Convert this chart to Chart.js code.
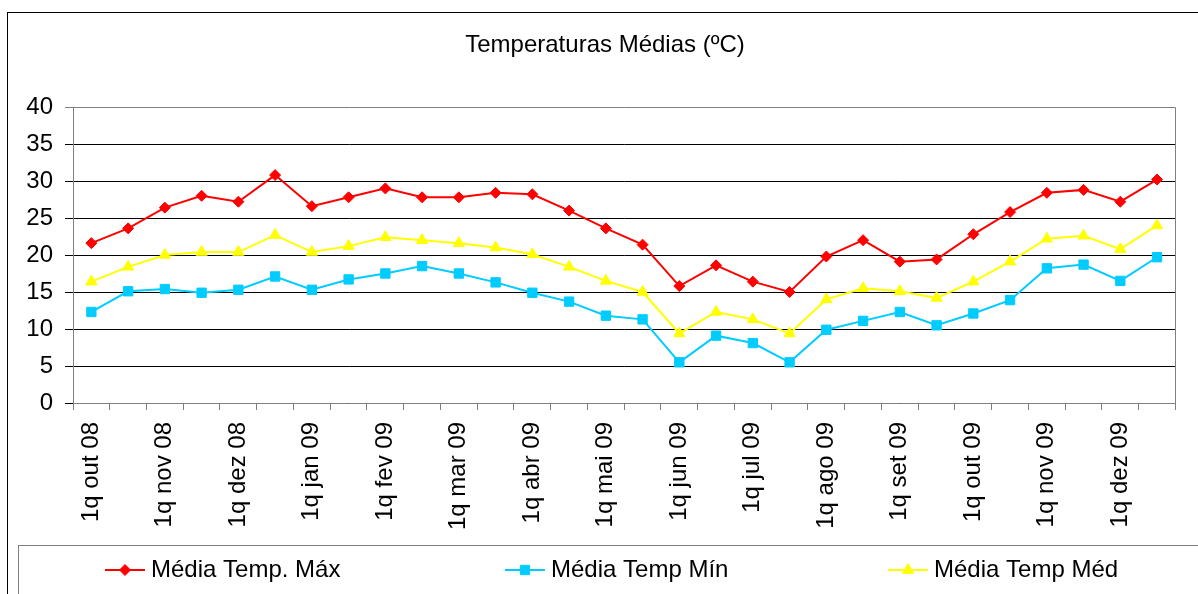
<!DOCTYPE html>
<html lang="pt">
    <head>
        <meta charset="UTF-8">
        <title>Temperaturas Médias (ºC)</title>
        <script src="https://cdn.jsdelivr.net/npm/chart.js"></script>
        <style>
            html, body { margin: 0; padding: 0; background: #fff; }
            .chart-container { width: 1198px; height: 594px; }
        </style>
    </head>
    <body>
        <div class="chart-container">
            <canvas id="tempChart" width="1198" height="594"></canvas>
        </div>

        <script>
            const chartTitle = 'Temperaturas Médias (ºC)';

            const categories = [
                '1q out 08', '2q out 08', '1q nov 08', '2q nov 08', '1q dez 08', '2q dez 08',
                '1q jan 09', '2q jan 09', '1q fev 09', '2q fev 09', '1q mar 09', '2q mar 09',
                '1q abr 09', '2q abr 09', '1q mai 09', '2q mai 09', '1q jun 09', '2q jun 09',
                '1q jul 09', '2q jul 09', '1q ago 09', '2q ago 09', '1q set 09', '2q set 09',
                '1q out 09', '2q out 09', '1q nov 09', '2q nov 09', '1q dez 09', '2q dez 09'
            ];

            const mediaMax = [21.6, 23.6, 26.4, 28.0, 27.2, 30.8, 26.6, 27.8, 29.0, 27.8,
                              27.8, 28.4, 28.2, 26.0, 23.6, 21.4, 15.8, 18.6, 16.4, 15.0,
                              19.8, 22.0, 19.1, 19.4, 22.8, 25.8, 28.4, 28.8, 27.2, 30.2];

            const mediaMin = [12.3, 15.1, 15.4, 14.9, 15.3, 17.1, 15.3, 16.7, 17.5, 18.5,
                              17.5, 16.3, 14.9, 13.7, 11.8, 11.3, 5.5, 9.1, 8.1, 5.5,
                              9.9, 11.1, 12.3, 10.5, 12.1, 13.9, 18.2, 18.7, 16.5, 19.7];

            const mediaMed = [16.4, 18.4, 20.0, 20.4, 20.4, 22.7, 20.4, 21.2, 22.4, 22.0,
                              21.6, 21.0, 20.1, 18.4, 16.5, 15.0, 9.4, 12.3, 11.3, 9.4,
                              14.0, 15.5, 15.1, 14.2, 16.4, 19.1, 22.2, 22.6, 20.8, 24.0];

            const seriesNames = ['Média Temp. Máx', 'Média Temp Mín', 'Média Temp Méd'];
            const yTicks = [0, 5, 10, 15, 20, 25, 30, 35, 40];

            const FONT = "'Liberation Sans', Arial, sans-serif";

            // frame, title, plot border and legend drawn like the Excel original
            const excelFrame = {
                id: 'excelFrame',
                beforeDraw(chart) {
                    const c = chart.ctx;
                    c.save();
                    c.fillStyle = '#fff';
                    c.fillRect(0, 0, chart.width, chart.height);
                    c.strokeStyle = '#000';
                    c.lineWidth = 1;
                    c.strokeRect(7.5, 12.5, chart.width + 20, chart.height + 20);
                    c.restore();
                },
                afterDraw(chart) {
                    const c = chart.ctx;
                    const a = chart.chartArea;
                    c.save();

                    // plot area border (right side)
                    c.strokeStyle = '#808080';
                    c.lineWidth = 1;
                    c.beginPath();
                    c.moveTo(Math.round(a.right) + 0.5, Math.round(a.top) + 0.5);
                    c.lineTo(Math.round(a.right) + 0.5, Math.round(a.bottom) + 0.5);
                    c.stroke();

                    // title
                    c.fillStyle = '#000';
                    c.font = '24px ' + FONT;
                    c.textAlign = 'center';
                    c.textBaseline = 'middle';
                    c.fillText(chartTitle, 605, 45);

                    // legend box
                    c.strokeStyle = '#808080';
                    c.strokeRect(18.5, 545.5, chart.width, 80);

                    const items = chart.data.datasets;
                    const xs = [105, 505, 888];
                    const ly = 570;
                    items.forEach((ds, i) => {
                        const x0 = xs[i];
                        c.strokeStyle = ds.borderColor;
                        c.lineWidth = 2;
                        c.beginPath();
                        c.moveTo(x0, ly);
                        c.lineTo(x0 + 40, ly);
                        c.stroke();
                        c.fillStyle = ds.pointBackgroundColor;
                        c.strokeStyle = ds.borderColor;
                        c.lineWidth = 1;
                        Chart.helpers.drawPoint(c, {
                            pointStyle: ds.pointStyle,
                            radius: ds.pointRadius,
                            rotation: 0,
                            borderWidth: 1
                        }, x0 + 20, ly);
                        c.fillStyle = '#000';
                        c.font = '24px ' + FONT;
                        c.textAlign = 'left';
                        c.textBaseline = 'middle';
                        c.fillText(ds.label, x0 + 46, ly);
                    });
                    c.restore();
                }
            };

            const ctx = document.getElementById('tempChart').getContext('2d');

            const chart = new Chart(ctx, {
                type: 'line',
                data: {
                    labels: categories,
                    datasets: [{
                        label: seriesNames[0],
                        data: mediaMax,
                        borderColor: '#FF0000',
                        backgroundColor: '#FF0000',
                        pointBackgroundColor: '#FF0000',
                        borderWidth: 2,
                        pointStyle: 'rectRot',
                        pointRadius: 5.5,
                        pointBorderWidth: 1,
                        order: 3
                    }, {
                        label: seriesNames[1],
                        data: mediaMin,
                        borderColor: '#00CCFF',
                        backgroundColor: '#00CCFF',
                        pointBackgroundColor: '#00CCFF',
                        borderWidth: 2,
                        pointStyle: 'rect',
                        pointRadius: 6.6,
                        pointBorderWidth: 1,
                        order: 2
                    }, {
                        label: seriesNames[2],
                        data: mediaMed,
                        borderColor: '#FFFF00',
                        backgroundColor: '#FFFF00',
                        pointBackgroundColor: '#FFFF00',
                        borderWidth: 2,
                        pointStyle: 'triangle',
                        pointRadius: 6.5,
                        pointBorderWidth: 1,
                        order: 1
                    }]
                },
                options: {
                    responsive: false,
                    animation: false,
                    layout: {
                        padding: { left: 0, top: 107, right: 8, bottom: 0 }
                    },
                    elements: {
                        line: { tension: 0 }
                    },
                    scales: {
                        x: {
                            offset: true,
                            grid: {
                                offset: true,
                                drawOnChartArea: false,
                                drawTicks: true,
                                tickLength: 7,
                                color: '#808080'
                            },
                            border: { color: '#808080', width: 1 },
                            ticks: {
                                autoSkip: false,
                                minRotation: 90,
                                maxRotation: 90,
                                padding: 12,
                                color: '#000',
                                font: { family: FONT, size: 24 },
                                callback: function(value, index) {
                                    return index % 2 === 0 ? categories[index] : '';
                                }
                            },
                            afterFit: function(scale) {
                                scale.height = 191;
                            }
                        },
                        y: {
                            min: yTicks[0],
                            max: yTicks[yTicks.length - 1],
                            afterBuildTicks: function(scale) {
                                scale.ticks = yTicks.map(v => ({ value: v }));
                            },
                            grid: {
                                color: function(c) {
                                    return c.tick && c.tick.value === 40 ? '#808080' : '#000';
                                },
                                lineWidth: 1,
                                tickLength: 8,
                                drawTicks: true
                            },
                            border: { color: '#808080', width: 1 },
                            ticks: {
                                padding: 12,
                                color: '#000',
                                font: { family: FONT, size: 24 }
                            },
                            afterFit: function(scale) {
                                scale.width = 73;
                            }
                        }
                    },
                    plugins: {
                        legend: { display: false },
                        title: { display: false },
                        tooltip: { enabled: false }
                    }
                },
                plugins: [excelFrame]
            });
        </script>
    </body>
</html>
